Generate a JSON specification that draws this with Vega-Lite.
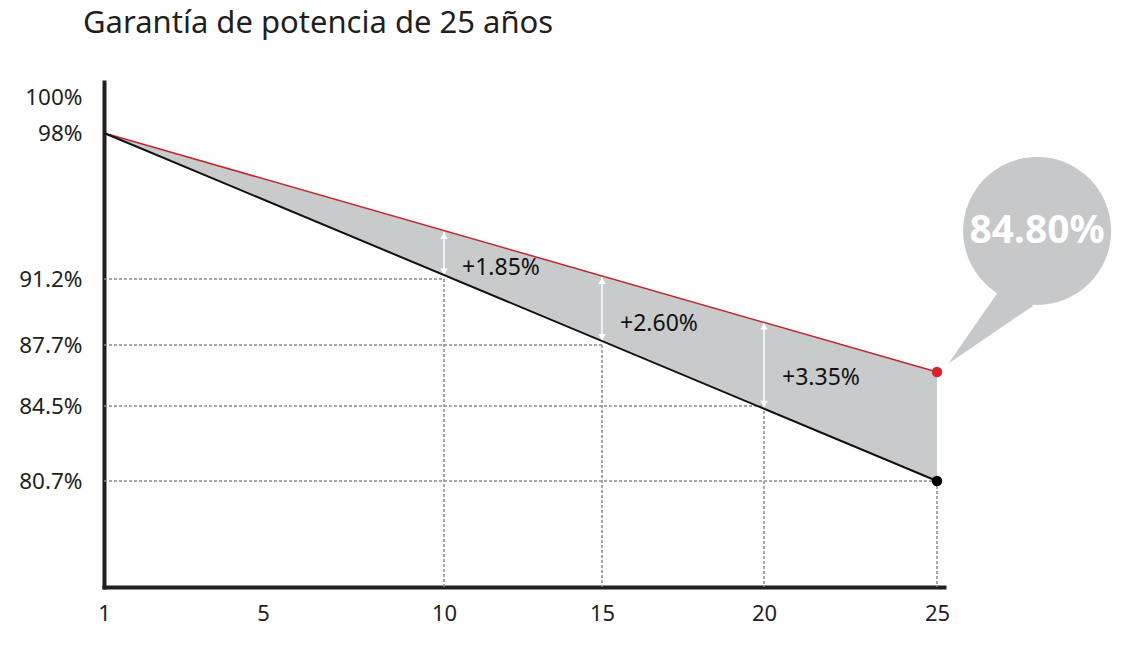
{
  "$schema": "https://vega.github.io/schema/vega-lite/v6.json",
  "width": 840,
  "height": 505,
  "autosize": {"type": "none"},
  "padding": {"left": 104, "top": 82, "right": 178, "bottom": 62},
  "background": "white",
  "title": {
    "text": "Garantía de potencia de 25 años",
    "anchor": "start",
    "frame": "group",
    "dx": -21,
    "offset": 18,
    "baseline": "alphabetic",
    "font": "Noto Sans",
    "fontSize": 31,
    "fontWeight": "normal",
    "color": "#231f20"
  },
  "datasets": {
    "curvas": [
      {"anio": 1, "garantia": 98, "estandar": 98},
      {"anio": 25, "garantia": 86.28, "estandar": 80.7}
    ],
    "guias": [
      {"inicio": 1, "anio": 10, "valor": 91.2, "base": 75},
      {"inicio": 1, "anio": 15, "valor": 87.7, "base": 75},
      {"inicio": 1, "anio": 20, "valor": 84.5, "base": 75},
      {"inicio": 1, "anio": 25, "valor": 80.7, "base": 75}
    ],
    "flechas": [
      {"anio": 10, "arriba": 93.4, "abajo": 91.35},
      {"anio": 15, "arriba": 91.3, "abajo": 87.9},
      {"anio": 20, "arriba": 88.9, "abajo": 84.4}
    ],
    "notas": [
      {"anio": 10, "valor": 91.71, "texto": "+1.85%"},
      {"anio": 15, "valor": 88.81, "texto": "+2.60%"},
      {"anio": 20, "valor": 85.97, "texto": "+3.35%"}
    ],
    "burbuja": [
      {"anio": 27.86, "valor": 93.44, "texto": "84.80%"}
    ]
  },
  "layer": [
    {
      "data": {"name": "curvas"},
      "mark": {"type": "area", "color": "#c8cacc", "opacity": 1},
      "encoding": {
        "x": {
          "field": "anio",
          "type": "quantitative",
          "scale": {
            "domain": [1, 5, 10, 15, 20, 25, 25.2],
            "range": [0, 159, 340, 498, 660, 833, 840],
            "nice": false,
            "zero": false
          },
          "axis": {
            "values": [1, 5, 10, 15, 20, 25],
            "title": null,
            "ticks": false,
            "grid": false,
            "labelFont": "Noto Sans",
            "labelFontSize": 22,
            "labelColor": "#231f20",
            "labelPadding": 16,
            "labelFlush": false,
            "labelOverlap": false,
            "domainColor": "#231f20",
            "domainWidth": 4,
            "domainCap": "square"
          }
        },
        "y": {
          "field": "garantia",
          "type": "quantitative",
          "scale": {
            "domain": [75, 80.7, 84.5, 87.7, 91.2, 98, 100, 100.8],
            "range": [505, 399, 324, 263, 197, 51, 15, 0],
            "nice": false,
            "zero": false
          },
          "axis": {
            "values": [80.7, 84.5, 87.7, 91.2, 98, 100],
            "labelExpr": "datum.value + '%'",
            "title": null,
            "ticks": false,
            "grid": false,
            "labelFont": "Noto Sans",
            "labelFontSize": 22.5,
            "labelColor": "#231f20",
            "labelPadding": 22,
            "labelFlush": false,
            "labelOverlap": false,
            "domainColor": "#231f20",
            "domainWidth": 4,
            "domainCap": "square"
          }
        },
        "y2": {"field": "estandar"}
      }
    },
    {
      "data": {"name": "guias"},
      "mark": {"type": "rule", "color": "#8c8c8c", "strokeWidth": 1.5, "strokeDash": [3, 2]},
      "encoding": {
        "x": {"field": "inicio", "type": "quantitative"},
        "x2": {"field": "anio"},
        "y": {"field": "valor", "type": "quantitative"}
      }
    },
    {
      "data": {"name": "guias"},
      "mark": {"type": "rule", "color": "#8c8c8c", "strokeWidth": 1.5, "strokeDash": [3, 2]},
      "encoding": {
        "x": {"field": "anio", "type": "quantitative"},
        "y": {"field": "valor", "type": "quantitative"},
        "y2": {"field": "base"}
      }
    },
    {
      "data": {"name": "flechas"},
      "mark": {"type": "rule", "color": "white", "strokeWidth": 1.5},
      "encoding": {
        "x": {"field": "anio", "type": "quantitative"},
        "y": {"field": "arriba", "type": "quantitative"},
        "y2": {"field": "abajo"}
      }
    },
    {
      "data": {"name": "flechas"},
      "mark": {"type": "point", "shape": "triangle-up", "filled": true, "color": "white", "opacity": 1, "size": 55, "yOffset": 4},
      "encoding": {
        "x": {"field": "anio", "type": "quantitative"},
        "y": {"field": "arriba", "type": "quantitative"}
      }
    },
    {
      "data": {"name": "flechas"},
      "mark": {"type": "point", "shape": "triangle-down", "filled": true, "color": "white", "opacity": 1, "size": 55, "yOffset": -4},
      "encoding": {
        "x": {"field": "anio", "type": "quantitative"},
        "y": {"field": "abajo", "type": "quantitative"}
      }
    },
    {
      "data": {"name": "notas"},
      "mark": {"type": "text", "align": "left", "baseline": "middle", "dx": 18, "font": "Noto Sans", "fontSize": 23, "color": "#111111"},
      "encoding": {
        "x": {"field": "anio", "type": "quantitative"},
        "y": {"field": "valor", "type": "quantitative"},
        "text": {"field": "texto"}
      }
    },
    {
      "data": {"name": "curvas"},
      "mark": {"type": "line", "color": "#c1272d", "strokeWidth": 1.5},
      "encoding": {
        "x": {"field": "anio", "type": "quantitative"},
        "y": {"field": "garantia", "type": "quantitative"}
      }
    },
    {
      "data": {"name": "curvas"},
      "mark": {"type": "line", "color": "#111111", "strokeWidth": 2},
      "encoding": {
        "x": {"field": "anio", "type": "quantitative"},
        "y": {"field": "estandar", "type": "quantitative"}
      }
    },
    {
      "data": {"name": "curvas"},
      "transform": [{"filter": "datum.anio == 25"}],
      "mark": {"type": "point", "filled": true, "color": "#d9252a", "opacity": 1, "size": 110},
      "encoding": {
        "x": {"field": "anio", "type": "quantitative"},
        "y": {"field": "garantia", "type": "quantitative"}
      }
    },
    {
      "data": {"name": "curvas"},
      "transform": [{"filter": "datum.anio == 25"}],
      "mark": {"type": "point", "filled": true, "color": "#000000", "opacity": 1, "size": 110},
      "encoding": {
        "x": {"field": "anio", "type": "quantitative"},
        "y": {"field": "estandar", "type": "quantitative"}
      }
    },
    {
      "data": {"name": "burbuja"},
      "mark": {"type": "point", "shape": "M0,0L-0.558,0.869L-1.197,1.791L-0.062,1.018Z", "filled": true, "color": "#c6c8ca", "opacity": 1, "size": 21904},
      "encoding": {
        "x": {"field": "anio", "type": "quantitative"},
        "y": {"field": "valor", "type": "quantitative"}
      }
    },
    {
      "data": {"name": "burbuja"},
      "mark": {"type": "point", "shape": "circle", "filled": true, "color": "#c6c8ca", "opacity": 1, "size": 21904},
      "encoding": {
        "x": {"field": "anio", "type": "quantitative"},
        "y": {"field": "valor", "type": "quantitative"}
      }
    },
    {
      "data": {"name": "burbuja"},
      "mark": {"type": "text", "align": "center", "baseline": "middle", "font": "Noto Sans", "fontSize": 39, "fontWeight": "bold", "color": "white"},
      "encoding": {
        "x": {"field": "anio", "type": "quantitative"},
        "y": {"field": "valor", "type": "quantitative"},
        "text": {"field": "texto"}
      }
    }
  ],
  "config": {
    "view": {"stroke": null}
  }
}
